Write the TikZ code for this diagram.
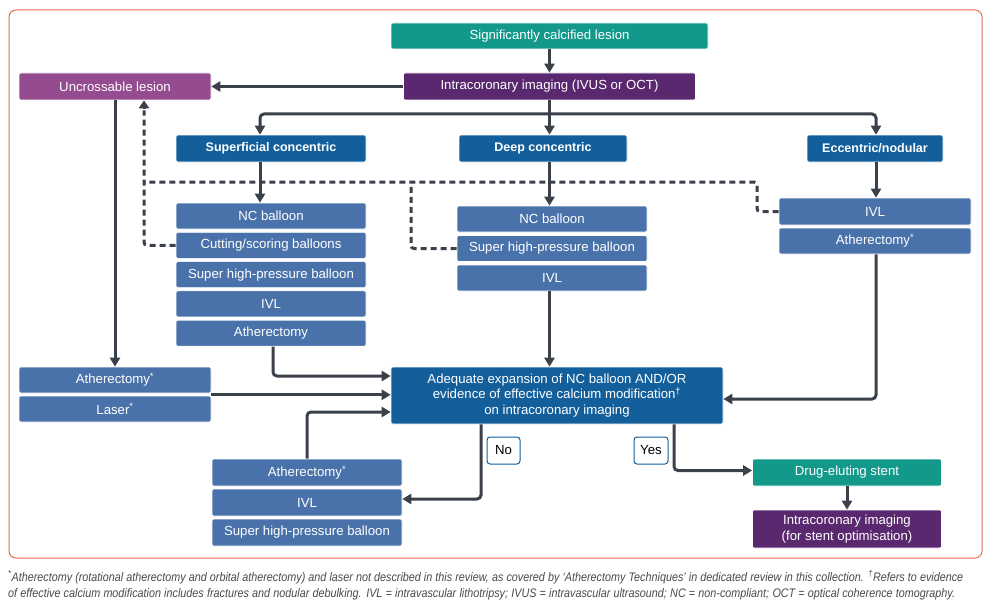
\documentclass[tikz,border=0pt]{standalone}
\usepackage{fontspec}
\setmainfont{Liberation Sans}
\newfontfamily\notefont[FakeStretch=0.87]{Liberation Sans}
\usetikzlibrary{arrows.meta,calc}
\definecolor{tealc}{HTML}{13998A}
\definecolor{purpd}{HTML}{59286F}
\definecolor{purpm}{HTML}{944B8F}
\definecolor{blued}{HTML}{125F9C}
\definecolor{bluel}{HTML}{4A72AA}
\definecolor{linec}{HTML}{3B414B}
\definecolor{framec}{HTML}{E9704B}
\definecolor{notec}{HTML}{4A4A4A}
\tikzset{
  bx/.style={rounded corners=2pt, draw=white, line width=0.6pt, inner sep=0pt, text=white,
     font=\fontsize{13.2}{15.7}\selectfont, align=center},
  hd/.style={bx, fill=blued, font=\fontsize{12.5}{15.7}\selectfont\bfseries},
  lb/.style={bx, fill=bluel},
  arr/.style={draw=linec, line width=3pt, -{Triangle[width=10pt,length=9pt]}},
  dsh/.style={draw=linec, line width=3pt, dash pattern=on 6pt off 4pt},
  tag/.style={draw=blued, fill=white, line width=1pt, rounded corners=3pt, inner sep=0pt,
     minimum width=33pt, minimum height=27pt, text=black, font=\fontsize{13.2}{14}\selectfont},
  note/.style={anchor=west, inner sep=0pt, text=notec, font=\notefont\fontsize{12.4}{13}\selectfont\itshape}
}
\begin{document}
\begin{tikzpicture}[x=1pt,y=-1pt]
\useasboundingbox (0,0) rectangle (989,610);
\fill[white] (0,0) rectangle (989,610);
\draw[framec, line width=1pt, rounded corners=7pt] (9,10) rectangle (982,558);

% top
\node[bx, fill=tealc, minimum width=317pt, minimum height=26pt] (sig) at (549.5,36) {Significantly calcified lesion};
\node[bx, fill=purpd, minimum width=292pt, minimum height=27pt] (img) at (549.5,86.5) {Intracoronary imaging (IVUS or OCT)};
\node[bx, fill=purpm, minimum width=192pt, minimum height=27pt] (unc) at (115,86.5) {Uncrossable lesion};

% headers
\node[hd, minimum width=190pt, minimum height=27pt] (sup) at (271,148.5) {Superficial concentric};
\node[hd, minimum width=168pt, minimum height=27pt] (deep) at (543,148.5) {Deep concentric};
\node[hd, minimum width=136pt, minimum height=27pt] (ecc) at (875,148.5) {Eccentric/nodular};

% superficial column
\node[lb, minimum width=190pt, minimum height=26pt] (s1) at (271,216) {NC balloon};
\node[lb, minimum width=190pt, minimum height=26pt] (s2) at (271,245.3) {Cutting/scoring balloons};
\node[lb, minimum width=190pt, minimum height=26pt] (s3) at (271,274.6) {Super high-pressure balloon};
\node[lb, minimum width=190pt, minimum height=26pt] (s4) at (271,303.9) {IVL};
\node[lb, minimum width=190pt, minimum height=26pt] (s5) at (271,333.2) {Atherectomy};

% deep column
\node[lb, minimum width=190pt, minimum height=26pt] (d1) at (552,219) {NC balloon};
\node[lb, minimum width=190pt, minimum height=26pt] (d2) at (552,248.5) {Super high-pressure balloon};
\node[lb, minimum width=190pt, minimum height=26pt] (d3) at (552,278) {IVL};

% eccentric column
\node[lb, minimum width=192pt, minimum height=27pt] (e1) at (875,211.5) {IVL};
\node[lb, minimum width=192pt, minimum height=26pt] (e2) at (875,241) {Atherectomy\textsuperscript{*}};

% left column
\node[lb, minimum width=192pt, minimum height=26pt] (l1) at (115,380) {Atherectomy\textsuperscript{*}};
\node[lb, minimum width=192pt, minimum height=26pt] (l2) at (115,409) {Laser\textsuperscript{*}};

% central
\node[bx, fill=blued, minimum width=332pt, minimum height=57pt] (cen) at (557,395.5)
  {Adequate expansion of NC balloon AND/OR\\evidence of effective calcium modification\textsuperscript{†}\\on intracoronary imaging};

% bottom left
\node[lb, minimum width=190pt, minimum height=27pt] (b1) at (307,472.5) {Atherectomy\textsuperscript{*}};
\node[lb, minimum width=190pt, minimum height=27pt] (b2) at (307,502.5) {IVL};
\node[lb, minimum width=190pt, minimum height=27pt] (b3) at (307,532.5) {Super high-pressure balloon};

% bottom right
\node[bx, fill=tealc, minimum width=189pt, minimum height=27pt] (des) at (847,472.5) {Drug-eluting stent};
\node[bx, fill=purpd, minimum width=189pt, minimum height=38pt] (ici) at (847,529) {Intracoronary imaging\\(for stent optimisation)};

% tags
\node[tag] (no) at (503.5,450.5) {No};
\node[tag, minimum width=34pt] (yes) at (651,450.5) {Yes};

% connectors
\draw[arr] (sig.south) -- (img.north);
\draw[arr] (img.west) -- (unc.east);
\draw[arr] (img.south) -- (img.south |- deep.north);
\coordinate (br) at (549.5,114);
\draw[arr, rounded corners=4pt] (br) -| ([xshift=-11pt]sup.north);
\draw[arr, rounded corners=4pt] (br) -| ([xshift=1pt]ecc.north);
\draw[arr] ([xshift=-11pt]sup.south) -- ([xshift=-11pt]s1.north);
\draw[arr] (img.south |- deep.south) -- (img.south |- d1.north);
\draw[arr] ([xshift=1pt]ecc.south) -- ([xshift=1pt]e1.north);
\draw[arr] (unc.south) -- (l1.north);
\draw[arr, rounded corners=4pt] ([xshift=2pt]s5.south) |- ([yshift=19.5pt]cen.west);
\draw[arr] ([yshift=-1.5pt]l1.south east) -- ([yshift=-1.5pt]l1.south east -| cen.west);
\draw[arr, rounded corners=4pt] (b1.north) |- ([yshift=-16.5pt]cen.west);
\draw[arr] (img.south |- d3.south) -- (img.south |- cen.north);
\draw[arr, rounded corners=4pt] ([xshift=1pt]e2.south) |- ([yshift=-3.5pt]cen.east);
\draw[arr, rounded corners=4pt] ([xshift=-76pt]cen.south) |- ([yshift=3.5pt]b2.east);
\draw[arr, rounded corners=4pt] ([xshift=117pt]cen.south) |- ([yshift=2pt]des.west);
\draw[arr] (des.south) -- (ici.north);

% dashed feedback
\draw[dsh, rounded corners=3pt] (s2.west) -| ([xshift=29pt,yshift=-10pt]unc.south);
\draw[draw=linec, line width=3pt, -{Triangle[width=10pt,length=8pt]}] ([xshift=29pt,yshift=-9pt]unc.south) -- ([xshift=29pt]unc.south);
\draw[dsh, rounded corners=3pt] (d2.west) -| (411,182);
\draw[dsh, rounded corners=3pt] (e1.west) -| (757,182) -- (144,182);

% footnote
\node[note] (n1) at (8,577) {\makebox[955pt][s]{\textsuperscript{*}Atherectomy (rotational atherectomy and orbital atherectomy) and laser not described in this review, as covered by ‘Atherectomy Techniques’ in dedicated review in this collection. \textsuperscript{†}Refers to evidence}};
\node[note] (n2) at (8,594) {\makebox[947pt][s]{of effective calcium modification includes fractures and nodular debulking. IVL = intravascular lithotripsy; IVUS = intravascular ultrasound; NC = non-compliant; OCT = optical coherence tomography.}};
\end{tikzpicture}
\end{document}
